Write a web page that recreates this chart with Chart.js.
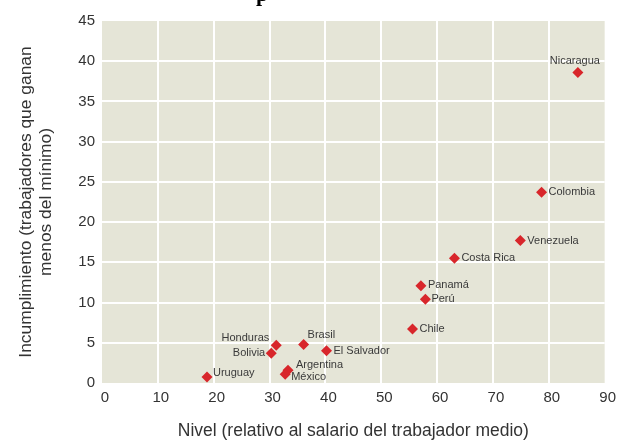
<!DOCTYPE html>
<html>
<head>
<meta charset="utf-8">
<script src="https://cdn.jsdelivr.net/npm/chart.js@4"></script>
<style>
  html, body { margin: 0; padding: 0; background: #fff; }
  #wrap { width: 619px; height: 443px; }
</style>
</head>
<body>
<div id="wrap"><canvas id="chart"></canvas></div>
<script>
// Countries and their values
const countries = ["Nicaragua", "Colombia", "Venezuela", "Costa Rica", "Panamá", "Perú", "Chile",
  "El Salvador", "Brasil", "Honduras", "Bolivia", "Argentina", "México", "Uruguay"];
const nivel = [85.2, 78.7, 74.9, 63.1, 57.1, 57.9, 55.6, 40.2, 36.1, 31.2, 30.3, 33.3, 32.8, 18.8];
const incumplimiento = [38.6, 23.7, 17.7, 15.5, 12.1, 10.4, 6.7, 4.0, 4.8, 4.7, 3.7, 1.6, 1.1, 0.75];

const xTicks = [0, 10, 20, 30, 40, 50, 60, 70, 80, 90];
const yTicks = [0, 5, 10, 15, 20, 25, 30, 35, 40, 45];

// where each label sits relative to its marker
const labelPlacement = {
  "Nicaragua": { dx: -3, dy: -12, align: "center" },
  "Honduras": { dx: -7, dy: -7, align: "right" },
  "Bolivia": { dx: -6, dy: 0, align: "right" },
  "Brasil": { dx: 4, dy: -9, align: "left" },
  "Argentina": { dx: 8, dy: -5, align: "left" },
  "México": { dx: 6, dy: 3, align: "left" },
  "Uruguay": { dx: 6, dy: -4, align: "left" },
  "Panamá": { dx: 7, dy: -1, align: "left" },
  "Perú": { dx: 6, dy: 0, align: "left" }
};

const FONT = "'Liberation Sans', Arial, sans-serif";

const plotBackground = {
  id: "plotBackground",
  beforeDraw(chart) {
    const { ctx, chartArea } = chart;
    ctx.save();
    ctx.fillStyle = "#e5e5d7";
    ctx.fillRect(chartArea.left, chartArea.top, chartArea.right - chartArea.left, chartArea.bottom - chartArea.top);
    ctx.restore();
  }
};

const pointLabels = {
  id: "pointLabels",
  afterDatasetsDraw(chart) {
    const { ctx } = chart;
    const meta = chart.getDatasetMeta(0);
    ctx.save();
    ctx.font = "11px " + FONT;
    ctx.fillStyle = "#3a3a3a";
    ctx.textBaseline = "middle";
    meta.data.forEach((pt, i) => {
      const name = countries[i];
      const p = labelPlacement[name] || { dx: 7, dy: 0, align: "left" };
      ctx.textAlign = p.align;
      ctx.fillText(name, pt.x + p.dx, pt.y + p.dy);
    });
    ctx.restore();
  }
};

// the title is cut off at the top of the picture, only a descender shows
const clippedTitle = {
  id: "clippedTitle",
  afterDraw(chart) {
    const { ctx } = chart;
    ctx.save();
    ctx.font = "bold 22px 'Liberation Serif', serif";
    ctx.fillStyle = "#000";
    ctx.textBaseline = "alphabetic";
    ctx.textAlign = "left";
    ctx.fillText("p", 256, 1);
    ctx.restore();
  }
};

new Chart(document.getElementById("chart"), {
  type: "scatter",
  data: {
    datasets: [{
      data: nivel.map((x, i) => ({ x: x, y: incumplimiento[i] })),
      pointStyle: "rectRot",
      pointRadius: 5.5,
      pointHoverRadius: 5.5,
      backgroundColor: "#d8262b",
      borderColor: "#d8262b",
      borderWidth: 0
    }]
  },
  options: {
    responsive: true,
    maintainAspectRatio: false,
    animation: false,
    layout: { autoPadding: false, padding: { top: 21, right: 9, left: 0, bottom: 0 } },
    plugins: {
      legend: { display: false },
      tooltip: { enabled: false }
    },
    scales: {
      x: {
        type: "linear",
        min: 0,
        max: 90,
        afterBuildTicks: (scale) => { scale.ticks = xTicks.map((v) => ({ value: v })); },
        afterFit: (scale) => { scale.height = 60; },
        grid: {
          color: (c) => (c.tick && (c.tick.value === 0 || c.tick.value === 90) ? "rgba(0,0,0,0)" : "#ffffff"),
          lineWidth: 2,
          drawTicks: false
        },
        border: { display: false },
        ticks: {
          color: "#333",
          font: { family: FONT, size: 15 },
          padding: 6,
          labelOffset: 3
        },
        title: {
          display: true,
          text: "Nivel (relativo al salario del trabajador medio)",
          color: "#333",
          font: { family: FONT, size: 17.5 },
          padding: { top: 0, bottom: 1 }
        }
      },
      y: {
        min: 0,
        max: 45,
        afterBuildTicks: (scale) => { scale.ticks = yTicks.map((v) => ({ value: v })); },
        afterFit: (scale) => { scale.width = 102; },
        grid: {
          color: (c) => (c.tick && (c.tick.value === 0 || c.tick.value === 45) ? "rgba(0,0,0,0)" : "#ffffff"),
          lineWidth: 2,
          drawTicks: false
        },
        border: { display: false },
        ticks: {
          color: "#333",
          font: { family: FONT, size: 15 },
          padding: 7
        },
        title: {
          display: true,
          text: ["Incumplimiento (trabajadores que ganan", "menos del mínimo)"],
          color: "#333",
          font: { family: FONT, size: 17.4, lineHeight: 1.15 },
          padding: { top: 16, bottom: 0 }
        }
      }
    }
  },
  plugins: [plotBackground, pointLabels, clippedTitle]
});
</script>
</body>
</html>
